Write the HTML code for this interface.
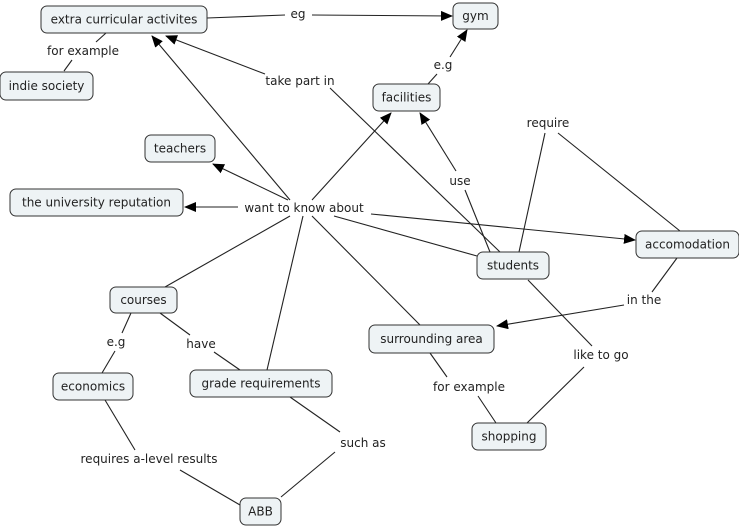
<!DOCTYPE html>
<html><head><meta charset="utf-8"><style>
html,body{margin:0;padding:0;background:#fff;}
svg{display:block;font-family:"DejaVu Sans","Liberation Sans",sans-serif;font-size:12px;}
rect{fill:#eef3f5;stroke:#333;stroke-width:1;}
line{stroke:#222;stroke-width:1.1;}
text{fill:#222;text-anchor:middle;dominant-baseline:central;}
</style></head><body>
<svg width="739" height="527" viewBox="0 0 739 527">
<defs><marker id="a" markerWidth="12" markerHeight="10" refX="11" refY="5" orient="auto" markerUnits="userSpaceOnUse"><path d="M0,0 L12,5 L0,10 z" fill="#000"/></marker></defs>
<g>
<line x1="207" y1="18" x2="285" y2="15"/><line x1="312" y1="15" x2="452" y2="16" marker-end="url(#a)"/>
<line x1="106" y1="33" x2="96" y2="42"/><line x1="72" y1="60" x2="64" y2="71"/>
<line x1="428" y1="84" x2="437" y2="74"/><line x1="450" y1="57" x2="467" y2="30" marker-end="url(#a)"/>
<line x1="500" y1="252" x2="330" y2="88"/><line x1="265" y1="74" x2="166" y2="36" marker-end="url(#a)"/>
<line x1="519" y1="252" x2="545" y2="133"/><line x1="558" y1="133" x2="680" y2="231"/>
<line x1="490" y1="252" x2="465" y2="190"/><line x1="456" y1="171" x2="420" y2="113" marker-end="url(#a)"/>
<line x1="290" y1="200" x2="152" y2="36" marker-end="url(#a)"/>
<line x1="312" y1="200" x2="391" y2="113" marker-end="url(#a)"/>
<line x1="288" y1="200" x2="213" y2="164" marker-end="url(#a)"/>
<line x1="238" y1="207" x2="185" y2="207" marker-end="url(#a)"/>
<line x1="371" y1="214" x2="635" y2="240" marker-end="url(#a)"/>
<line x1="334" y1="216" x2="477" y2="256"/>
<line x1="290" y1="216" x2="165" y2="287"/>
<line x1="303" y1="216" x2="267" y2="370"/>
<line x1="312" y1="216" x2="420" y2="325"/>
<line x1="677" y1="258" x2="652" y2="292"/><line x1="624" y1="305" x2="497" y2="326" marker-end="url(#a)"/>
<line x1="528" y1="280" x2="592" y2="346"/><line x1="584" y1="367" x2="527" y2="423"/>
<line x1="430" y1="353" x2="447" y2="377"/><line x1="478" y1="396" x2="496" y2="423"/>
<line x1="131" y1="313" x2="122" y2="333"/><line x1="115" y1="351" x2="102" y2="373"/>
<line x1="160" y1="313" x2="190" y2="335"/><line x1="214" y1="352" x2="240" y2="370"/>
<line x1="105" y1="400" x2="135" y2="450"/><line x1="180" y1="470" x2="240" y2="505"/>
<line x1="290" y1="397" x2="340" y2="432"/><line x1="335" y1="452" x2="281" y2="497"/>
</g>
<g>
<rect x="41" y="6" width="166" height="27" rx="6"/><text x="124" y="19.5">extra curricular activites</text>
<rect x="453" y="3" width="45" height="26" rx="6"/><text x="475.5" y="16">gym</text>
<rect x="0" y="72" width="93" height="28" rx="6"/><text x="46.5" y="86">indie society</text>
<rect x="373" y="84" width="67" height="27" rx="6"/><text x="406.5" y="97.5">facilities</text>
<rect x="145" y="135" width="70" height="27" rx="6"/><text x="180" y="148.5">teachers</text>
<rect x="10" y="189" width="173" height="27" rx="6"/><text x="96.5" y="202.5">the university reputation</text>
<rect x="636" y="231" width="103" height="27" rx="6"/><text x="687.5" y="244.5">accomodation</text>
<rect x="477" y="252" width="72" height="27" rx="6"/><text x="513" y="265.5">students</text>
<rect x="110" y="287" width="67" height="26" rx="6"/><text x="143.5" y="300">courses</text>
<rect x="369" y="325" width="125" height="28" rx="6"/><text x="431.5" y="339">surrounding area</text>
<rect x="53" y="373" width="80" height="27" rx="6"/><text x="93" y="386.5">economics</text>
<rect x="190" y="370" width="142" height="27" rx="6"/><text x="261" y="383.5">grade requirements</text>
<rect x="472" y="423" width="74" height="27" rx="6"/><text x="509" y="436.5">shopping</text>
<rect x="240" y="498" width="41" height="27" rx="6"/><text x="260.5" y="511.5">ABB</text>
</g>
<g>
<text x="298" y="14">eg</text>
<text x="83" y="51">for example</text>
<text x="443" y="65">e.g</text>
<text x="300" y="81">take part in</text>
<text x="548" y="123">require</text>
<text x="460" y="181">use</text>
<text x="304" y="208">want to know about</text>
<text x="644" y="300">in the</text>
<text x="116" y="342">e.g</text>
<text x="201" y="344">have</text>
<text x="601" y="355">like to go</text>
<text x="469" y="387">for example</text>
<text x="149" y="459">requires a-level results</text>
<text x="363" y="443">such as</text>
</g>
</svg>
</body></html>
